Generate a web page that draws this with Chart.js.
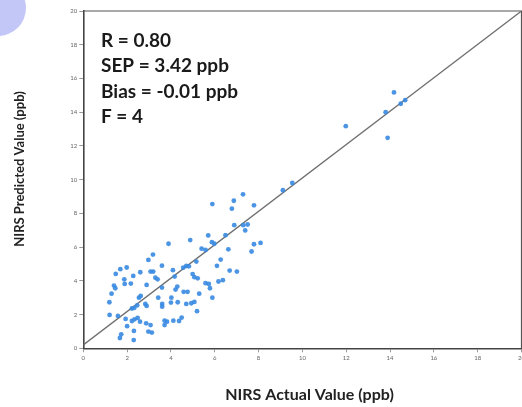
<!DOCTYPE html>
<html>
<head>
<meta charset="utf-8">
<script src="https://cdn.jsdelivr.net/npm/chart.js@4/dist/chart.umd.min.js"></script>
<style>
  html, body { margin: 0; padding: 0; background: #fff; overflow: hidden; }
  #wrap { position: relative; width: 522px; height: 407px; overflow: hidden; }
  #blob { position: absolute; left: -30px; top: -20px; width: 56px; height: 56px; border-radius: 50%; background: #c3c7f8; z-index: 2; }
  canvas { position: absolute; left: 0; top: 0; }
</style>
</head>
<body>
<div id="wrap">
  <canvas id="nirsChart" width="530" height="407"></canvas>
  <div id="blob"></div>
</div>
<script>
const actualValues = [
  14.18, 13.8, 14.49, 14.69, 13.89, 11.98, 9.54, 9.11, 7.29, 6.87,
  6.78, 7.79, 5.89, 6.89, 7.3, 7.5, 7.39, 6.49, 5.7, 5.87,
  5.98, 7.79, 8.09, 7.68, 6.62, 5.4, 5.58, 4.88, 3.89, 3.18,
  2.97, 3.59, 4.56, 4.82, 4.7, 4.09, 5.16, 6.27, 6.1, 6.68,
  7.01, 4.99, 5.07, 5.22, 4.17, 3.19, 3.07, 3.29, 3.39, 2.6,
  2.28, 1.98, 1.69, 1.48, 1.87, 1.89, 2.17, 1.4, 1.46, 1.29,
  1.19, 1.2, 1.58, 1.93, 2.0, 1.73, 1.67, 2.3, 2.31, 2.22,
  2.34, 2.48, 2.59, 2.22, 2.33, 2.46, 2.54, 2.62, 2.89, 2.83,
  2.89, 2.87, 3.07, 2.97, 3.13, 3.42, 3.59, 3.6, 3.6, 3.71,
  3.71, 3.82, 4.02, 4.0, 4.11, 4.21, 4.29, 4.31, 4.37, 4.49,
  4.58, 4.76, 4.7, 4.93, 5.07, 5.29, 5.19, 5.58, 5.73, 5.78,
  5.89, 6.17, 6.37
];
const predictedValues = [
  15.17, 14.0, 14.5, 14.71, 12.48, 13.17, 9.8, 9.37, 9.13, 8.75,
  8.28, 8.48, 8.55, 7.3, 7.3, 7.34, 6.99, 6.71, 6.69, 6.29,
  6.2, 6.17, 6.25, 5.74, 5.87, 5.91, 5.83, 6.42, 6.2, 5.56,
  5.24, 4.9, 4.78, 4.86, 4.88, 4.63, 5.14, 5.26, 4.89, 4.61,
  4.55, 4.4, 4.22, 4.15, 4.25, 4.55, 4.55, 4.19, 4.09, 4.51,
  4.29, 4.79, 4.69, 4.41, 4.09, 3.82, 3.84, 3.72, 3.56, 3.24,
  2.73, 1.98, 1.92, 1.74, 1.31, 0.83, 0.61, 0.49, 1.03, 1.62,
  1.72, 1.8, 1.58, 2.36, 2.4, 2.55, 3.0, 3.1, 3.76, 2.63,
  2.51, 1.48, 1.38, 0.99, 0.93, 3.0, 3.6, 2.63, 2.47, 1.64,
  1.38, 1.58, 3.0, 2.71, 1.64, 3.48, 3.66, 2.73, 1.62, 1.82,
  3.35, 3.35, 2.63, 2.67, 2.75, 3.24, 2.2, 3.86, 3.82, 3.56,
  3.0, 3.96, 4.04
];
// reference line end points
const lineX = [0, 20];
const lineY = [0.2, 20];

const axisTicks = [0, 2, 4, 6, 8, 10, 12, 14, 16, 18, 20];
const statLines = ['R = 0.80', 'SEP = 3.42 ppb', 'Bias = -0.01 ppb', 'F = 4'];
const xTitle = 'NIRS Actual Value (ppb)';
const yTitle = 'NIRS Predicted Value (ppb)';

const points = actualValues.map((v, i) => ({ x: v, y: predictedValues[i] }));
const linePoints = lineX.map((v, i) => ({ x: v, y: lineY[i] }));

// frame on top and right, plus the text
const framePlugin = {
  id: 'frame',
  beforeDatasetsDraw(chart) {
    const { ctx, chartArea: a } = chart;
    ctx.save();
    ctx.strokeStyle = '#555';
    ctx.lineWidth = 1.2;
    ctx.beginPath();
    ctx.moveTo(a.left, a.top);
    ctx.lineTo(a.right, a.top);
    ctx.lineTo(a.right, a.bottom);
    ctx.stroke();
    ctx.restore();
  },
  afterDraw(chart) {
    const ctx = chart.ctx;
    ctx.save();
    ctx.fillStyle = '#1a1a1a';
    ctx.font = 'bold 19px Lato';
    ctx.textAlign = 'left';
    ctx.textBaseline = 'alphabetic';
    statLines.forEach((t, i) => ctx.fillText(t, 101, 46.5 + i * 25.6));

    ctx.fillStyle = '#222';
    ctx.textAlign = 'center';
    ctx.font = 'bold 16px Lato';
    ctx.fillText(xTitle, 309.5, 400);

    ctx.translate(23.5, 169);
    ctx.rotate(-Math.PI / 2);
    ctx.font = 'bold 13px Lato';
    ctx.fillText(yTitle, 0, 0);
    ctx.restore();
  }
};

const tickFont = { family: 'Lato', size: 6 };

new Chart(document.getElementById('nirsChart'), {
  type: 'scatter',
  data: {
    datasets: [
      {
        label: 'samples',
        data: points,
        backgroundColor: 'rgba(55,138,225,0.9)',
        borderColor: 'rgba(55,138,225,0.9)',
        pointRadius: 2.4,
        borderWidth: 0
      },
      {
        label: 'line',
        type: 'line',
        data: linePoints,
        borderColor: '#6e6e6e',
        borderWidth: 1.3,
        pointRadius: 0,
        fill: false
      }
    ]
  },
  options: {
    responsive: false,
    animation: false,
    layout: { padding: { left: 0, right: 8.5, top: 11, bottom: 0 } },
    plugins: { legend: { display: false }, tooltip: { enabled: false } },
    scales: {
      x: {
        type: 'linear',
        min: 0, max: 20,
        afterBuildTicks: s => { s.ticks = axisTicks.map(v => ({ value: v })); },
        afterFit: s => { s.height = 58.7; },
        ticks: { font: tickFont, color: '#666', padding: 2, maxRotation: 0, autoSkip: false },
        grid: { drawOnChartArea: false, drawTicks: true, tickLength: 4, color: '#999' },
        border: { display: true, color: '#444', width: 1.6 }
      },
      y: {
        type: 'linear',
        min: 0, max: 20,
        afterBuildTicks: s => { s.ticks = axisTicks.map(v => ({ value: v })); },
        afterFit: s => { s.width = 83.3; },
        ticks: { font: tickFont, color: '#666', padding: 2, autoSkip: false },
        grid: { drawOnChartArea: false, drawTicks: true, tickLength: 4, color: '#999' },
        border: { display: true, color: '#444', width: 1.6 }
      }
    }
  },
  plugins: [framePlugin]
});
</script>
</body>
</html>
